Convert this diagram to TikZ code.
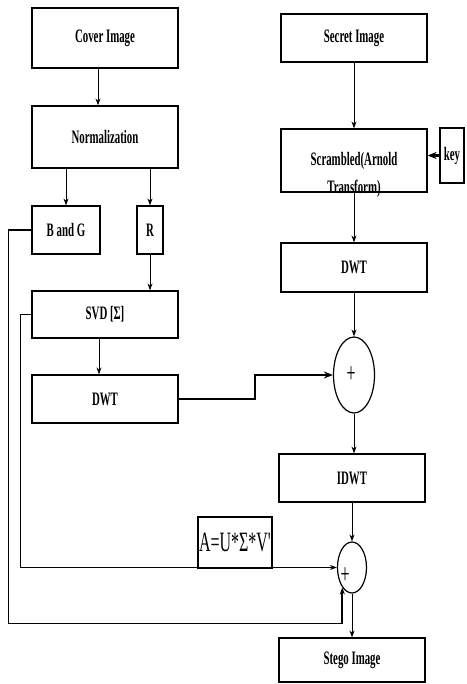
\documentclass[tikz,border=0pt]{standalone}
\usepackage{fontspec}
\newfontfamily\boxfont[FakeStretch=0.57]{Liberation Serif}
\usetikzlibrary{shapes.geometric, arrows.meta, calc}

\begin{document}
\begin{tikzpicture}[
    x=0.5pt, y=-0.5pt,
    block/.style={rectangle, draw, line width=0.6pt, inner sep=0pt, minimum width=73pt, font=\boxfont\bfseries\fontsize{9.5}{11}\selectfont},
    sum/.style={ellipse, draw, line width=0.6pt, inner sep=0pt, font=\boxfont\fontsize{14}{16}\selectfont},
    arrow/.style={line width=0.5pt, -{Stealth[length=3.5pt, width=2.5pt]}},
    thickarrow/.style={line width=1.1pt, -{Stealth[length=4.5pt, width=3.5pt]}}
]
\useasboundingbox (0,0) rectangle (466,684);

\node[block, minimum height=30pt] (cover) at (105,38) {Cover Image};
\node[block, minimum height=31pt] (norm) at (105,137) {Normalization};
\node[block, minimum width=34pt, minimum height=24pt] (bg) at (66,230) {B and G};
\node[block, minimum width=13pt, minimum height=24pt] (r) at (150,230) {R};
\node[block, minimum height=23.5pt] (svd) at (105,314.5) {SVD [Σ]};
\node[block, minimum height=24pt] (dwtL) at (105,399) {DWT};

\node[block, minimum height=24pt] (secret) at (354,38) {Secret Image};
\node[block, minimum height=31.5pt] (scram) at (354,160.5) {\raisebox{-9.5pt}[0pt][0pt]{\begin{tabular}{@{}c@{}}Scrambled(Arnold\\[3pt]Transform)\end{tabular}}};
\node[block, minimum width=12pt, minimum height=27.5pt, line width=1.2pt] (key) at (452,155.5) {key};
\node[block, minimum height=24.5pt] (dwtR) at (354,267.5) {DWT};
\node[sum, minimum width=20.5pt, minimum height=38pt] (plus1) at (354,375) {\makebox[0pt]{+\hspace{3pt}}};
\node[block, minimum height=24pt] (idwt) at (352,478) {IDWT};
\node[sum, minimum width=14.5pt, minimum height=25.5pt] (plus2) at (352,567.5) {\raisebox{-8pt}[0pt][0pt]{\makebox[0pt]{+\hspace{7pt}}}};
\node[block, minimum height=22pt] (stego) at (352,660) {Stego Image};
\node[block, minimum width=37pt, minimum height=25.5pt, font=\boxfont\fontsize{14}{16}\selectfont] (usv) at (235,542.5) {A=U*Σ*V'};

\draw[arrow] ([xshift=-3.5pt]cover.south) -- ([xshift=-3.5pt]norm.north);
\draw[arrow] (norm.south -| bg) -- (bg.north);
\draw[arrow] (norm.south -| r) -- (r.north);
\draw[arrow] (r.south) -- (r.south |- svd.north);
\draw[arrow] ([xshift=-3pt]svd.south) -- ([xshift=-3pt]dwtL.north);
\draw[arrow] (secret) -- (scram);
\draw[arrow] (scram) -- (dwtR);
\draw[thickarrow] (key.west) -- (key.west -| scram.east);
\draw[arrow] (dwtR) -- (plus1);
\draw[thickarrow] (dwtL.east) -- ++(76,0) |- (plus1.west);
\draw[arrow] (plus1) -- (plus1 |- idwt.north);
\draw[arrow] (idwt) -- (plus2);
\draw[arrow] (plus2) -- (stego);
\draw[arrow, line width=0.9pt] (svd.west) -- ++(-11,0) |- (plus2.west);
\path (plus2.-116) ++(0,36) coordinate (loopend);
\draw[arrow, line width=0.9pt] (bg.west) -- ++(-23,0) |- (loopend) -- (plus2.-116);

\end{tikzpicture}
\end{document}
